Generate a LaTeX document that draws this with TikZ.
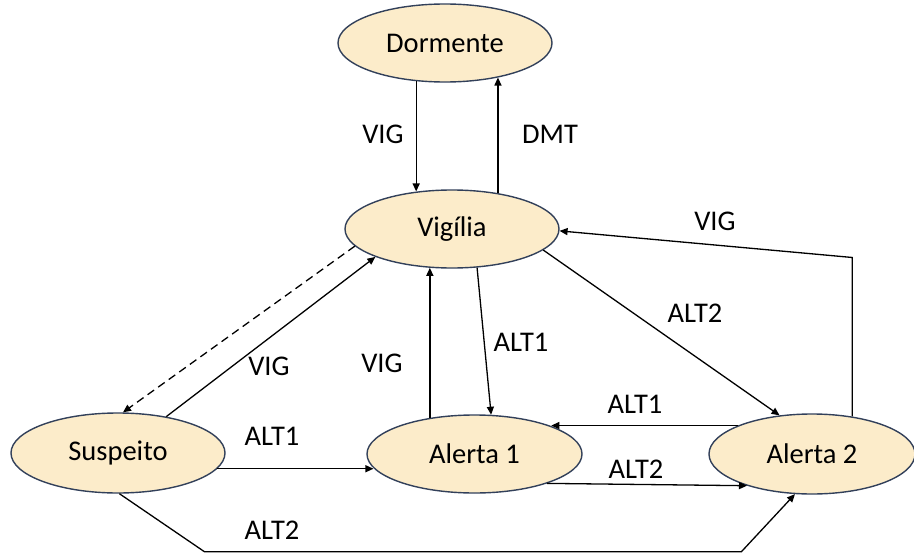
\documentclass[tikz,border=0pt]{standalone}
\usepackage{fontspec}
\setmainfont{Carlito}
\usetikzlibrary{shapes.geometric,arrows.meta}
\definecolor{estadofill}{RGB}{252,236,202}
\definecolor{estadoborda}{RGB}{50,64,90}

\begin{document}
\begin{tikzpicture}[x=1pt, y=-1pt,
    every node/.style={font=\fontsize{28.5}{34}\selectfont},
    estado/.style={ellipse, draw=estadoborda, line width=1.4pt, fill=estadofill,
        minimum width=214pt, minimum height=78pt, inner sep=0pt},
    seta/.style={line width=1.3pt, -{Triangle[length=8pt,width=7pt]}},
    rotulo/.style={inner sep=0pt}]
    \useasboundingbox (0,0) rectangle (914,554);

    % Estados
    \node[estado] (dorm) at (445,43) {Dormente};
    \node[estado] (vig) at (452,229) {Vigília};
    \node[estado, minimum height=80pt] (sus) at (118,453) {Suspeito};
    \node[estado, minimum width=215pt] (al1) at (474.5,454) {Alerta 1};
    \node[estado, minimum width=206pt, minimum height=80pt] (al2) at (812,454) {Alerta 2};

    % Dormente <-> Vigília
    \draw[seta] (dorm.233) -- (dorm.233 |- vig.133);
    \draw[seta] (vig.38) -- (vig.38 |- dorm.327);
    \node[rotulo] (lvig1) at (383,134) {VIG};
    \node[rotulo] (ldmt) at (550,134) {DMT};

    % Vigília -> Alerta 1 / Alerta 2
    \draw[seta] (vig.-57) -- (al1.67);
    \draw[seta] (vig.-13) -- (al2.130);
    \node[rotulo] (lalt1a) at (521,342) {ALT1};
    \node[rotulo] (lalt2a) at (695,313) {ALT2};

    % Alerta 2 -> Vigília
    \draw[seta] (al2.43) -- ++(0,-159) -- (vig.-1);
    \node[rotulo] (lvig2) at (715,221) {VIG};

    % Alerta 1 -> Vigília
    \draw[seta] (al1.141) -- (al1.141 |- vig.240);
    \node[rotulo] (lvig3) at (382,363) {VIG};

    % Suspeito <-> Vigília
    \draw[seta] (sus.37) -- (vig.200);
    \draw[seta, dash pattern=on 8pt off 5pt] (vig.190) -- (sus.83);
    \node[rotulo] (lvig4) at (269,366) {VIG};

    % Suspeito -> Alerta 1
    \draw[seta] (sus.351) -- (sus.351 -| al1.188);
    \node[rotulo] (lalt1b) at (272,436) {ALT1};

    % Alerta 1 <-> Alerta 2
    \draw[seta] (al2.159) -- (al2.159 -| al1.20);
    \draw[seta] (al1.338) -- (al2.206);
    \node[rotulo] (lalt1c) at (635,404) {ALT1};
    \node[rotulo] (lalt2b) at (636,469) {ALT2};

    % Suspeito -> Alerta 2 (por baixo)
    \draw[seta] (sus.272) -- ++(85,58) -- ++(537,0) -- (al2.247);
    \node[rotulo] (lalt2c) at (272,530) {ALT2};
\end{tikzpicture}
\end{document}
